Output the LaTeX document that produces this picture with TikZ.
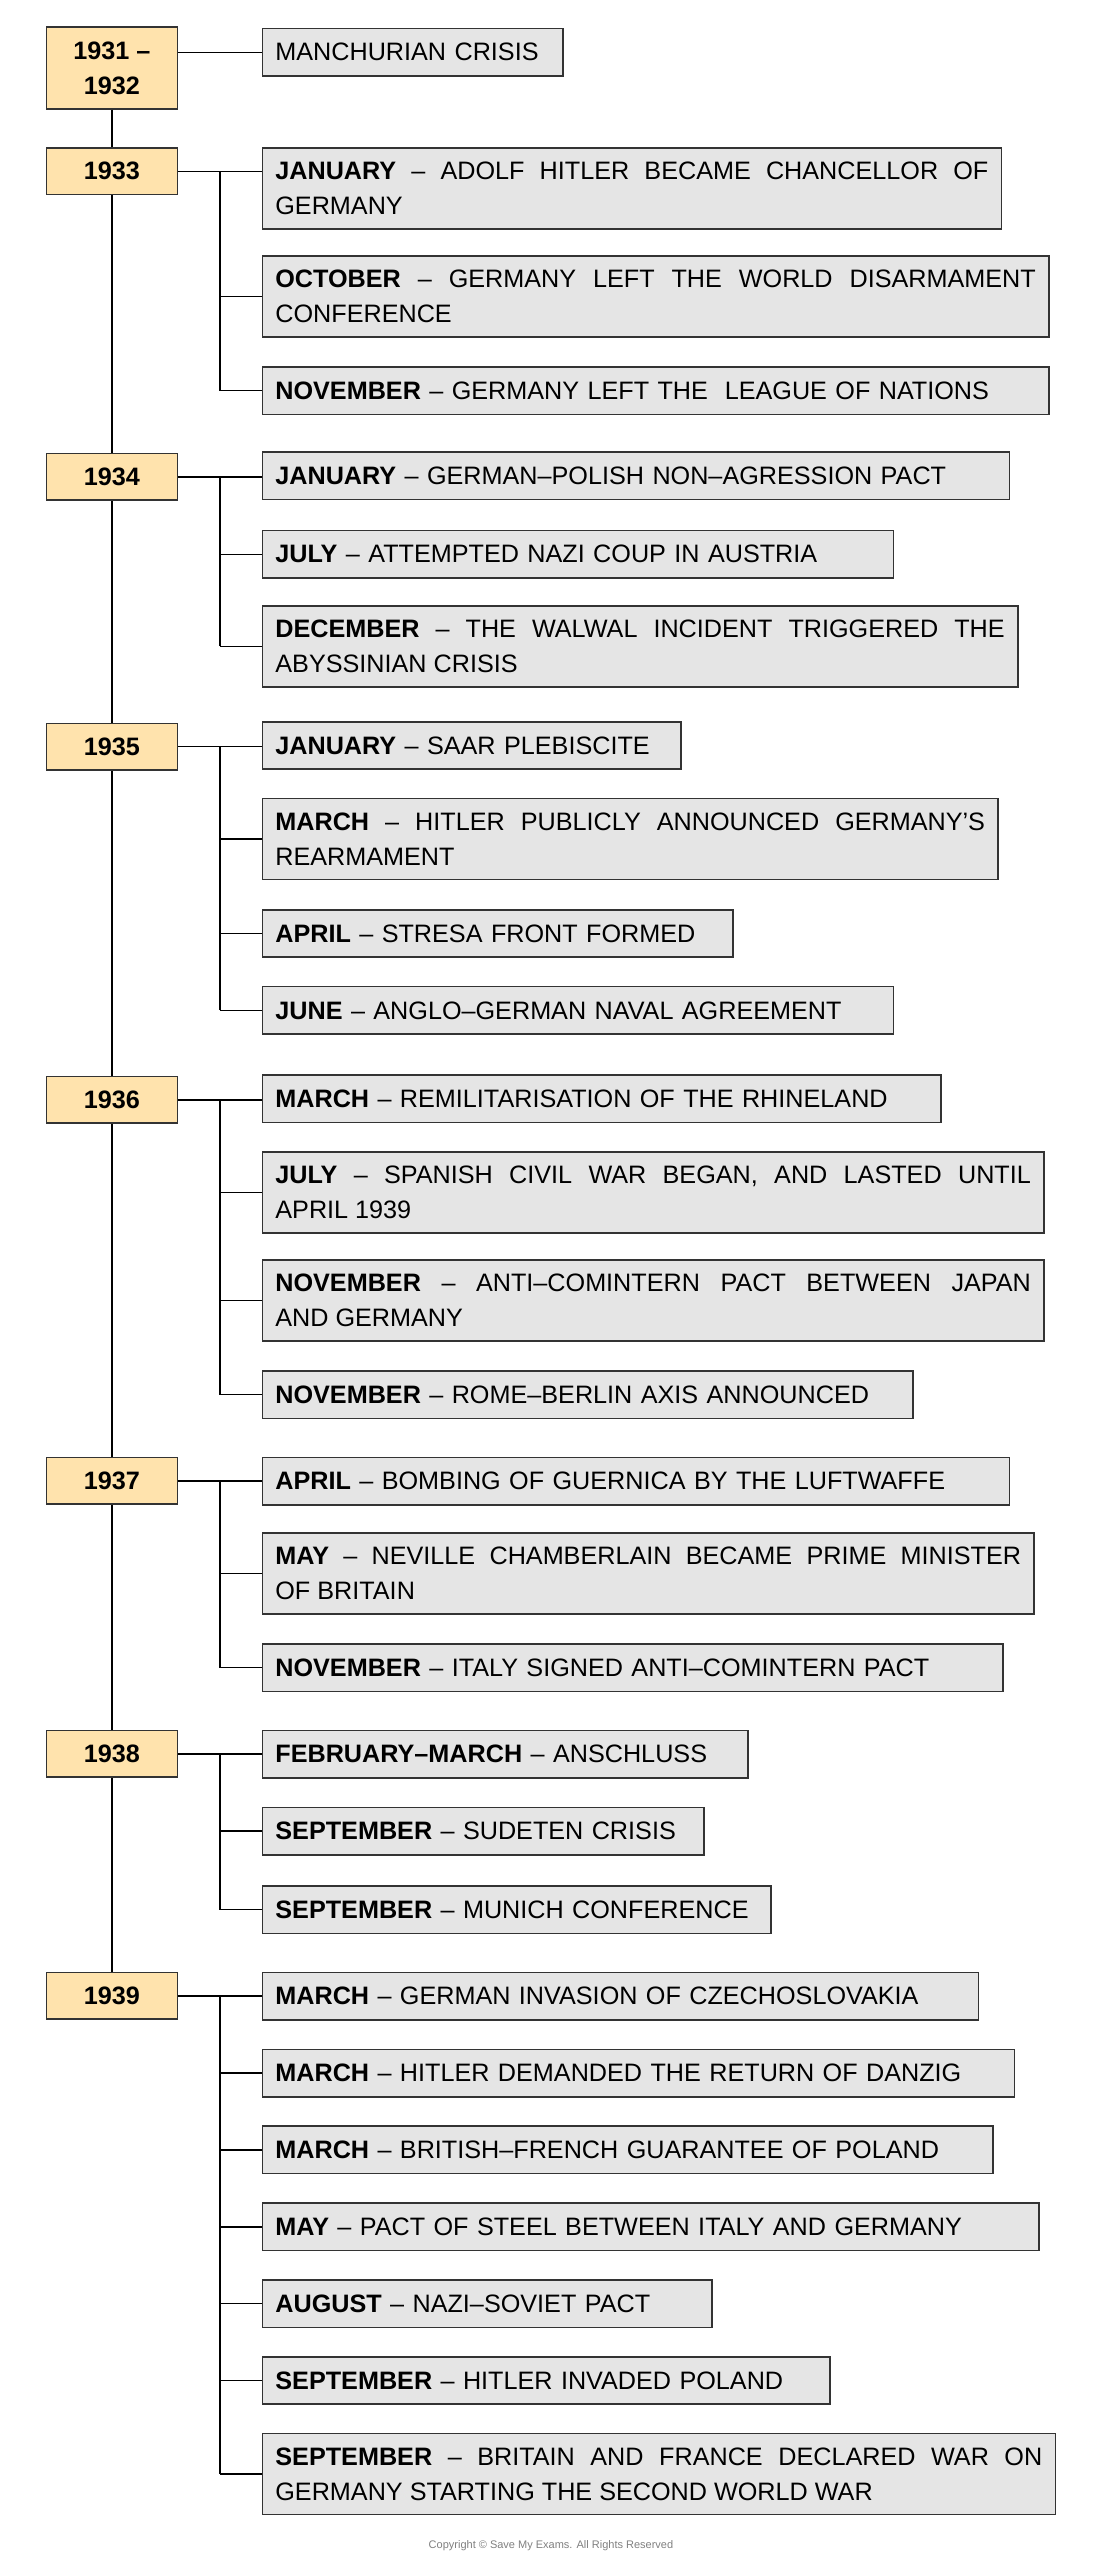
\documentclass[tikz,border=0pt]{standalone}
\usepackage{fontspec}
\setmainfont{Liberation Sans}
\usepackage{xcolor}
\definecolor{YearGold}{HTML}{FFE3AD}
\definecolor{EventGrey}{HTML}{E5E5E5}
\definecolor{EdgeDark}{HTML}{333333}
\usepackage{tikz}
\usetikzlibrary{positioning, calc}
\hyphenpenalty=10000
\tikzset{
  yearbox/.style={rectangle, draw=EdgeDark, fill=YearGold, line width=0.8pt, minimum width=65.4pt, minimum height=23.3pt, inner sep=0pt, font=\fontsize{12.6pt}{17.5pt}\selectfont\bfseries, align=center, anchor=north west},
  eventbox/.style={rectangle, draw=EdgeDark, fill=EventGrey, line width=0.8pt, minimum height=23.7pt, inner xsep=6.5pt, inner ysep=3pt, font=\fontsize{12.6pt}{17.5pt}\selectfont, align=left, anchor=north west},
  twoline/.style={align=justify, minimum height=40.5pt},
  evright/.code={\pgfmathsetmacro\evwidth{(#1-160)*0.8175-13}\tikzset{text width=\evwidth pt}},
  link/.style={line width=0.7pt, black}
}

\begin{document}
\begin{tikzpicture}[x=0.8175pt, y=-0.8175pt]
  \useasboundingbox (0,0) rectangle (672.8,1565.8);

  % year boxes
  \node[yearbox, minimum height=40.9pt] (y31) at (28,16) {1931 –\\1932};
  \node[yearbox] (y33) at (28,90) {1933};
  \node[yearbox] (y34) at (28,277) {1934};
  \node[yearbox] (y35) at (28,442) {1935};
  \node[yearbox] (y36) at (28,658) {1936};
  \node[yearbox] (y37) at (28,891) {1937};
  \node[yearbox] (y38) at (28,1058) {1938};
  \node[yearbox] (y39) at (28,1206) {1939};

  % events
  \node[eventbox, evright=344] (e31) at (160,17) {MANCHURIAN CRISIS};

  \node[eventbox, evright=612, twoline] (e33a) at (160,90) {\textbf{JANUARY} – ADOLF HITLER BECAME CHANCELLOR OF\linebreak GERMANY};
  \node[eventbox, evright=641, twoline] (e33b) at (160,156) {\textbf{OCTOBER} – GERMANY LEFT THE WORLD DISARMAMENT\linebreak CONFERENCE};
  \node[eventbox, evright=641] (e33c) at (160,224) {\textbf{NOVEMBER} – GERMANY LEFT THE\ \ LEAGUE OF NATIONS};

  \node[eventbox, evright=617] (e34a) at (160,276) {\textbf{JANUARY} – GERMAN–POLISH NON–AGRESSION PACT};
  \node[eventbox, evright=546] (e34b) at (160,324) {\textbf{JULY} – ATTEMPTED NAZI COUP IN AUSTRIA};
  \node[eventbox, evright=622, twoline] (e34c) at (160,370) {\textbf{DECEMBER} – THE WALWAL INCIDENT TRIGGERED THE\linebreak ABYSSINIAN CRISIS};

  \node[eventbox, evright=416] (e35a) at (160,441) {\textbf{JANUARY} – SAAR PLEBISCITE};
  \node[eventbox, evright=610, twoline] (e35b) at (160,488) {\textbf{MARCH} – HITLER PUBLICLY ANNOUNCED GERMANY’S\linebreak REARMAMENT};
  \node[eventbox, evright=448] (e35c) at (160,556) {\textbf{APRIL} – STRESA FRONT FORMED};
  \node[eventbox, evright=546] (e35d) at (160,603) {\textbf{JUNE} – ANGLO–GERMAN NAVAL AGREEMENT};

  \node[eventbox, evright=575] (e36a) at (160,657) {\textbf{MARCH} – REMILITARISATION OF THE RHINELAND};
  \node[eventbox, evright=638, twoline] (e36b) at (160,704) {\textbf{JULY} – SPANISH CIVIL WAR BEGAN, AND LASTED UNTIL\linebreak APRIL 1939};
  \node[eventbox, evright=638, twoline] (e36c) at (160,770) {\textbf{NOVEMBER} – ANTI–COMINTERN PACT BETWEEN JAPAN\linebreak AND GERMANY};
  \node[eventbox, evright=558] (e36d) at (160,838) {\textbf{NOVEMBER} – ROME–BERLIN AXIS ANNOUNCED};

  \node[eventbox, evright=617] (e37a) at (160,891) {\textbf{APRIL} – BOMBING OF GUERNICA BY THE LUFTWAFFE};
  \node[eventbox, evright=632, twoline] (e37b) at (160,937) {\textbf{MAY} – NEVILLE CHAMBERLAIN BECAME PRIME MINISTER\linebreak OF BRITAIN};
  \node[eventbox, evright=613] (e37c) at (160,1005) {\textbf{NOVEMBER} – ITALY SIGNED ANTI–COMINTERN PACT};

  \node[eventbox, evright=457] (e38a) at (160,1058) {\textbf{FEBRUARY–MARCH} – ANSCHLUSS};
  \node[eventbox, evright=430] (e38b) at (160,1105) {\textbf{SEPTEMBER} – SUDETEN CRISIS};
  \node[eventbox, evright=471] (e38c) at (160,1153) {\textbf{SEPTEMBER} – MUNICH CONFERENCE};

  \node[eventbox, evright=598] (e39a) at (160,1206) {\textbf{MARCH} – GERMAN INVASION OF CZECHOSLOVAKIA};
  \node[eventbox, evright=620] (e39b) at (160,1253) {\textbf{MARCH} – HITLER DEMANDED THE RETURN OF DANZIG};
  \node[eventbox, evright=607] (e39c) at (160,1300) {\textbf{MARCH} – BRITISH–FRENCH GUARANTEE OF POLAND};
  \node[eventbox, evright=635] (e39d) at (160,1347) {\textbf{MAY} – PACT OF STEEL BETWEEN ITALY AND GERMANY};
  \node[eventbox, evright=435] (e39e) at (160,1394) {\textbf{AUGUST} – NAZI–SOVIET PACT};
  \node[eventbox, evright=507] (e39f) at (160,1441) {\textbf{SEPTEMBER} – HITLER INVADED POLAND};
  \node[eventbox, evright=645, twoline] (e39g) at (160,1488) {\textbf{SEPTEMBER} – BRITAIN AND FRANCE DECLARED WAR ON\linebreak GERMANY STARTING THE SECOND WORLD WAR};

  % timeline
  \foreach \a/\b in {31/33,33/34,34/35,35/36,36/37,37/38,38/39}
    \draw[link] (y\a.south) -- (y\b.north);

  \draw[link] (y31.east |- e31.west) -- (e31.west);

  % branches
  \foreach \y/\last/\rest in {33/c/{b,c}, 34/c/{b,c}, 35/d/{b,c,d}, 36/d/{b,c,d}, 37/c/{b,c}, 38/c/{b,c}, 39/g/{b,c,d,e,f,g}} {
    \path (y\y.east) -- (y\y.east -| e\y a.west) coordinate[midway] (b\y);
    \draw[link] (y\y.east) -- (y\y.east -| e\y a.west);
    \draw[link] (b\y) -- (b\y |- e\y\last.west);
    \foreach \e in \rest
      \draw[link] (b\y |- e\y\e.west) -- (e\y\e.west);
  }

  \node[font=\fontsize{5.5pt}{6pt}\selectfont, text=gray] (copy) at (337,1557) {Copyright © Save My Exams. All Rights Reserved};
\end{tikzpicture}
\end{document}
